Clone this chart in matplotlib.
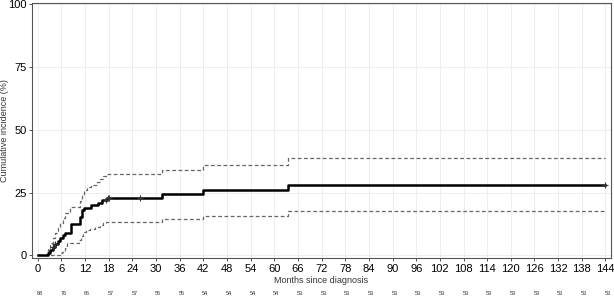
import numpy as np
import matplotlib.pyplot as plt
import matplotlib.transforms as mtransforms

plt.rcParams['font.family'] = ['Liberation Sans', 'DejaVu Sans']

# cumulative incidence step curve (months, %)
t_est = [0, 2.6, 3.2, 3.8, 4.4, 5.0, 5.6, 6.3, 7.0, 8.3, 10.7, 11.2, 11.8, 13.5, 15.2, 16.4, 17.5, 31.4, 41.8, 63.5, 144]
y_est = [0, 1.1, 2.3, 3.4, 4.5, 5.7, 6.8, 8.0, 9.1, 12.5, 15.5, 18.0, 19.0, 20.0, 21.0, 22.2, 23.0, 24.6, 26.1, 28.0, 28.0]

# upper confidence limit
t_up = [0, 2.6, 3.2, 3.8, 4.4, 5.0, 5.6, 6.3, 7.0, 8.1, 10.7, 11.2, 11.8, 12.4, 13.5, 14.9, 15.8, 16.6, 17.5, 31.4, 41.8, 63.5, 144]
y_up = [0, 2.5, 5.0, 7.0, 9.0, 11.0, 13.0, 15.0, 17.0, 19.2, 21.5, 24.0, 26.0, 27.2, 28.0, 29.2, 30.5, 31.7, 32.4, 34.1, 36.1, 38.6, 38.6]

# lower confidence limit
t_lo = [0, 3.0, 5.5, 6.2, 6.8, 7.3, 10.4, 10.9, 11.5, 12.3, 13.2, 14.5, 15.7, 16.6, 17.4, 31.4, 41.8, 63.5, 144]
y_lo = [0, 0.3, 0.8, 1.5, 3.0, 4.8, 6.0, 7.8, 9.2, 10.0, 10.6, 11.3, 12.0, 12.8, 13.5, 14.6, 15.9, 17.5, 17.5]

# censoring marks
t_cens = [3.8, 4.4, 17.2, 17.8, 18.0, 26.0, 144]

xticks = list(range(0, 145, 6))
at_risk = [88, 76, 66, 57, 57, 56, 55, 54, 54, 54, 54, 53, 53, 53, 53, 53, 53, 53, 53, 53, 53, 53, 53, 53, 53]

fig = plt.figure(figsize=(6.14, 3.01), dpi=100)
ax = fig.add_axes([0.052, 0.143, 0.943, 0.847])

ax.step(t_up, y_up, where='post', color='#666666', lw=0.9, ls=(0, (3, 2)))
ax.step(t_lo, y_lo, where='post', color='#666666', lw=0.9, ls=(0, (3, 2)))
ax.step(t_est, y_est, where='post', color='black', lw=1.8)

y_cens = [y_est[np.searchsorted(t_est, t, side='right') - 1] for t in t_cens]
ax.plot(t_cens, y_cens, ls='none', marker='+', color='#333333', ms=5, mew=0.8)

ax.set_xlim(-1.5, 145.4)
ax.set_ylim(-1, 100.5)
ax.set_xticks(xticks)
ax.set_yticks([0, 25, 50, 75, 100])
ax.tick_params(labelsize=8, length=2.5, width=0.6, color='#333333', pad=1.5)
ax.grid(True, color='#ebebeb', lw=0.6)
ax.set_axisbelow(True)
for s in ax.spines.values():
    s.set_color('#555555')
    s.set_linewidth(0.8)

ax.set_xlabel('Months since diagnosis', fontsize=6.5, color='#333333', labelpad=2)
ax.set_ylabel('Cumulative incidence (%)', fontsize=6.5, color='#333333')
ax.yaxis.set_label_coords(-0.04, 0.5)

trans = mtransforms.blended_transform_factory(ax.transData, ax.transAxes)
for x, n in zip(xticks, at_risk):
    ax.text(x + 0.5, -0.141, str(n), transform=trans, fontsize=4, ha='center', va='center', color='#333333')

fig.savefig('out.png', dpi=100)
